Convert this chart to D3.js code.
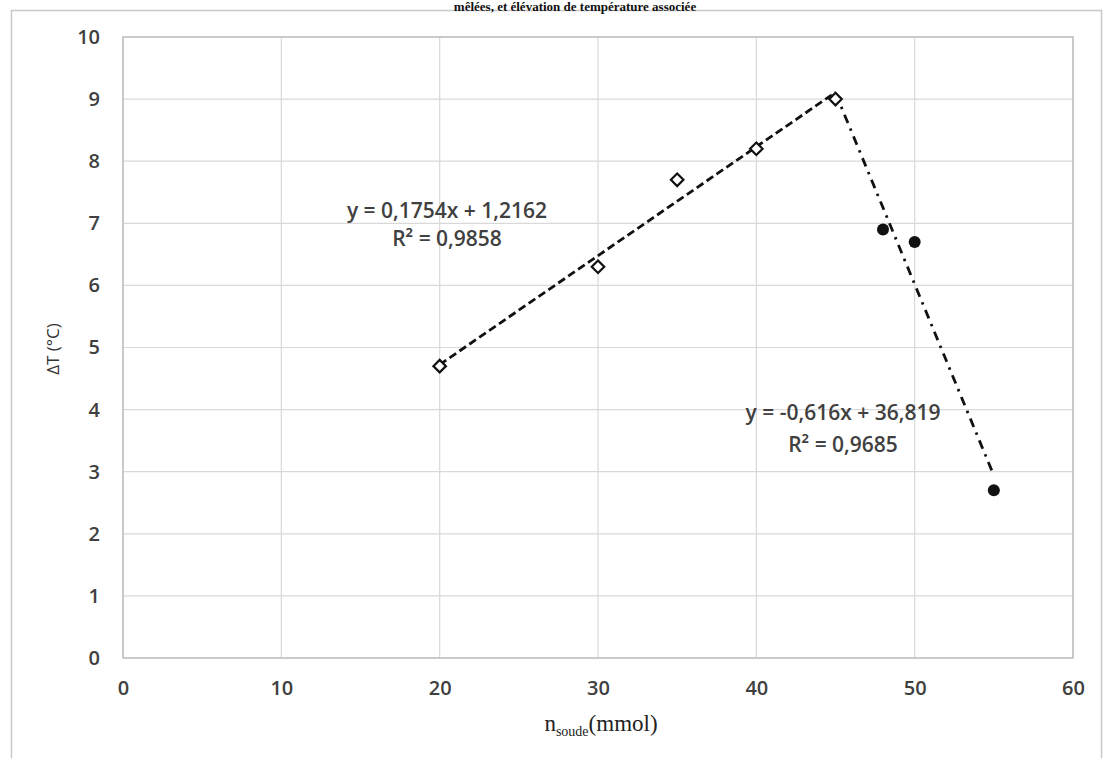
<!DOCTYPE html>
<html>
<head>
<meta charset="utf-8">
<script src="https://cdn.jsdelivr.net/npm/d3@7"></script>
<style>
  body { margin: 0; background: #fff; }
  svg { display: block; }
</style>
</head>
<body>
<div id="chart"></div>
<script>
var svgWidth = 1108;
var svgHeight = 758;

var margin = { top: 37, right: 35, bottom: 100, left: 123 };
var chartWidth = svgWidth - margin.left - margin.right;
var chartHeight = svgHeight - margin.top - margin.bottom;

// data
var acidX = [20, 30, 35, 40, 45];
var acidY = [4.7, 6.3, 7.7, 8.2, 9.0];
var baseX = [48, 50, 55];
var baseY = [6.9, 6.7, 2.7];

// trendlines (coefficients as printed on the chart)
var fit1 = { slope: 0.1754, intercept: 1.2162, from: 20, to: 45 };
var fit2 = { slope: -0.616, intercept: 36.819, from: 45, to: 55 };
var fit1Labels = ["y = 0,1754x + 1,2162", "R² = 0,9858"];
var fit2Labels = ["y = -0,616x + 36,819", "R² = 0,9685"];

var xTicks = [0, 10, 20, 30, 40, 50, 60];
var yTicks = [0, 1, 2, 3, 4, 5, 6, 7, 8, 9, 10];

var svg = d3.select('#chart').append('svg')
    .attr('width', svgWidth)
    .attr('height', svgHeight);

// outer frame
svg.append('rect')
    .attr('x', 11.5).attr('y', 10.5)
    .attr('width', 1090).attr('height', 760)
    .attr('fill', 'none')
    .attr('stroke', '#c8c8c8')
    .attr('stroke-width', 1.5);

// title (top part of it is outside the picture in the reference)
svg.append('text')
    .attr('x', 575)
    .attr('y', 11)
    .attr('text-anchor', 'middle')
    .attr('font-family', '"Liberation Serif", serif')
    .attr('font-weight', 'bold')
    .attr('font-size', '13px')
    .attr('fill', '#111')
    .text('mêlées, et élévation de température associée');

var chartGroup = svg.append('g')
    .attr('transform', `translate(${margin.left}, ${margin.top})`);

var xScale = d3.scaleLinear().domain([0, 60]).range([0, chartWidth]);
var yScale = d3.scaleLinear().domain([0, 10]).range([chartHeight, 0]);

// gridlines
chartGroup.append('g')
    .selectAll('line.h')
    .data(yTicks)
    .enter()
    .append('line')
    .attr('x1', 0).attr('x2', chartWidth)
    .attr('y1', d => yScale(d)).attr('y2', d => yScale(d))
    .attr('stroke', '#d9d9d9')
    .attr('stroke-width', 1.2);

chartGroup.append('g')
    .selectAll('line.v')
    .data(xTicks)
    .enter()
    .append('line')
    .attr('x1', d => xScale(d)).attr('x2', d => xScale(d))
    .attr('y1', 0).attr('y2', chartHeight)
    .attr('stroke', '#d9d9d9')
    .attr('stroke-width', 1.2);

// plot border
chartGroup.append('rect')
    .attr('x', 0).attr('y', 0)
    .attr('width', chartWidth).attr('height', chartHeight)
    .attr('fill', 'none')
    .attr('stroke', '#bfbfbf')
    .attr('stroke-width', 1.5);

// axes (labels only)
var bottomAxis = d3.axisBottom(xScale).tickValues(xTicks).tickSize(0).tickPadding(23);
var leftAxis = d3.axisLeft(yScale).tickValues(yTicks).tickSize(0).tickPadding(23);

var xAxis = chartGroup.append('g')
    .attr('transform', `translate(0, ${chartHeight})`)
    .call(bottomAxis);
var yAxis = chartGroup.append('g').call(leftAxis);

[xAxis, yAxis].forEach(function(ax) {
    ax.select('.domain').remove();
    ax.selectAll('text')
        .attr('font-family', '"Open Sans", sans-serif')
        .attr('font-size', '20px')
        .attr('font-weight', '600')
        .attr('fill', '#404040');
});

// trendlines
function fitLine(f) {
    return [[f.from, f.slope * f.from + f.intercept], [f.to, f.slope * f.to + f.intercept]];
}
var line = d3.line().x(d => xScale(d[0])).y(d => yScale(d[1]));

chartGroup.append('path')
    .datum(fitLine(fit1))
    .attr('d', line)
    .attr('fill', 'none')
    .attr('stroke', '#111')
    .attr('stroke-width', 2.8)
    .attr('stroke-dasharray', '8,4');

chartGroup.append('path')
    .datum(fitLine(fit2))
    .attr('d', line)
    .attr('fill', 'none')
    .attr('stroke', '#111')
    .attr('stroke-width', 2.8)
    .attr('stroke-dasharray', '9,6,2.5,6');

// markers
var acidData = acidX.map((x, i) => ({ x: x, y: acidY[i] }));
var baseData = baseX.map((x, i) => ({ x: x, y: baseY[i] }));

chartGroup.selectAll('.diamond')
    .data(acidData)
    .enter()
    .append('path')
    .attr('class', 'diamond')
    .attr('d', d3.symbol().type(d3.symbolDiamond2).size(100))
    .attr('transform', d => `translate(${xScale(d.x)}, ${yScale(d.y)})`)
    .attr('fill', '#fff')
    .attr('stroke', '#111')
    .attr('stroke-width', 2.2);

chartGroup.selectAll('.dot')
    .data(baseData)
    .enter()
    .append('circle')
    .attr('class', 'dot')
    .attr('cx', d => xScale(d.x))
    .attr('cy', d => yScale(d.y))
    .attr('r', 6)
    .attr('fill', '#111');

// equation labels
function eqLabel(lines, cx, y0, dy) {
    chartGroup.append('g').selectAll('text')
        .data(lines)
        .enter()
        .append('text')
        .attr('x', cx)
        .attr('y', (d, i) => y0 + i * dy)
        .attr('text-anchor', 'middle')
        .attr('font-family', '"Open Sans", sans-serif')
        .attr('font-size', '21px')
        .attr('font-weight', '600')
        .attr('fill', '#404040')
        .text(d => d);
}
eqLabel(fit1Labels, 447 - margin.left, 218 - margin.top, 28);
eqLabel(fit2Labels, 843 - margin.left, 420 - margin.top, 32);

// axis titles
svg.append('text')
    .attr('x', 601)
    .attr('y', 731)
    .attr('text-anchor', 'middle')
    .attr('font-family', '"Liberation Serif", serif')
    .attr('font-size', '23px')
    .attr('fill', '#222')
    .html('n<tspan font-size="14px" dy="5">soude</tspan><tspan dy="-5">(mmol)</tspan>');

svg.append('text')
    .attr('transform', 'translate(59, 349) rotate(-90)')
    .attr('text-anchor', 'middle')
    .attr('font-family', '"Open Sans", sans-serif')
    .attr('font-size', '17px')
    .attr('fill', '#333')
    .text('ΔT (°C)');
</script>
</body>
</html>
